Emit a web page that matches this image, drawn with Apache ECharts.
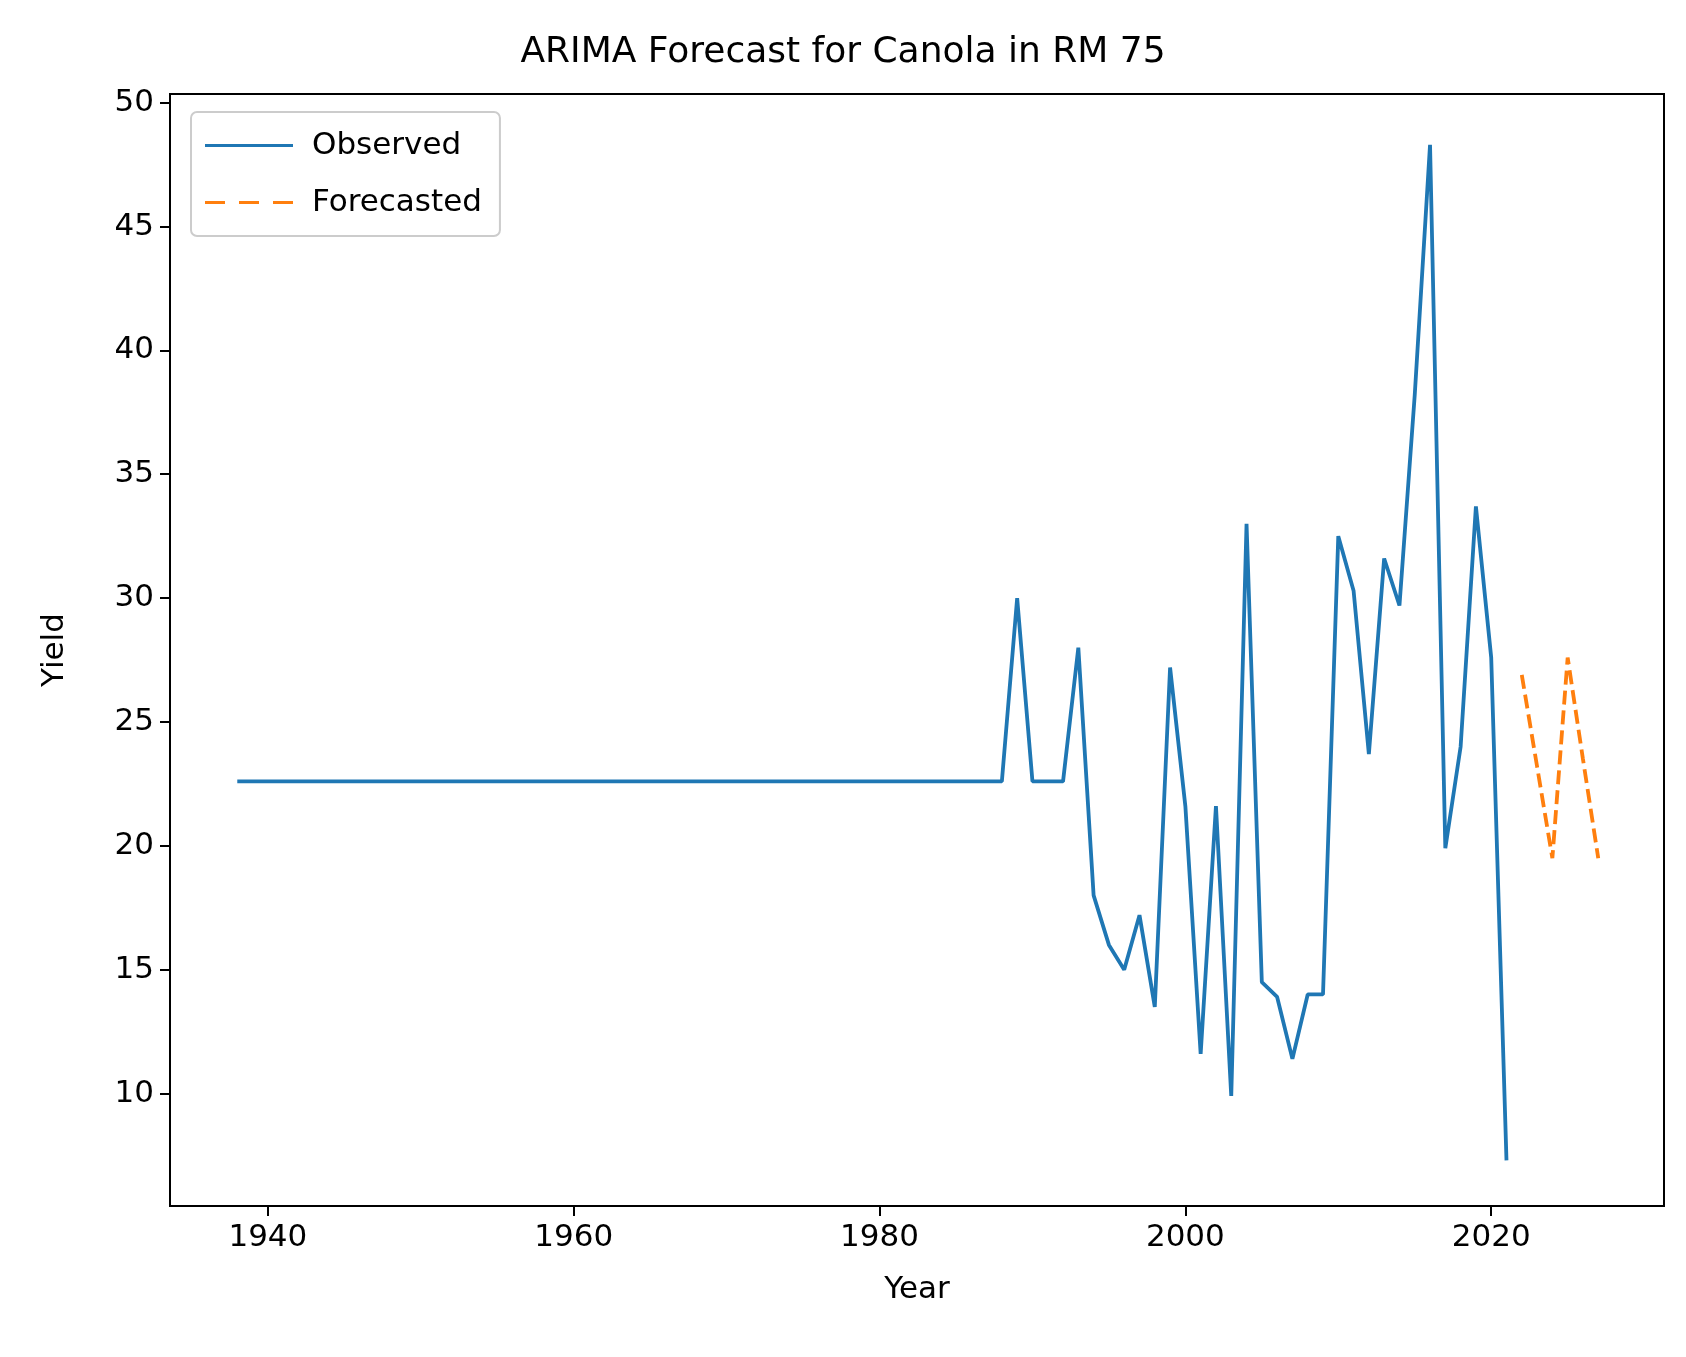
<!DOCTYPE html>
<html>
<head>
<meta charset="utf-8">
<script src="https://cdn.jsdelivr.net/npm/echarts@6/dist/echarts.min.js"></script>
<style>html,body{margin:0;background:#fff}#main{width:1686px;height:1357px}</style>
</head>
<body>
<div id="main"></div>
<script>
const obsYears = []
const obsValues = []
for (let y = 1938; y <= 1988; y++) { obsYears.push(y); obsValues.push(22.6) }
const lateYears = [1989, 1990, 1991, 1992, 1993, 1994, 1995, 1996, 1997, 1998, 1999, 2000, 2001, 2002, 2003, 2004, 2005, 2006, 2007, 2008, 2009, 2010, 2011, 2012, 2013, 2014, 2015, 2016, 2017, 2018, 2019, 2020, 2021]
const lateValues = [30, 22.6, 22.6, 22.6, 28, 18, 16, 15, 17.2, 13.5, 27.2, 21.6, 11.6, 21.6, 9.9, 33, 14.5, 13.9, 11.4, 14, 14, 32.5, 30.3, 23.7, 31.6, 29.7, 38.2, 48.3, 19.9, 24, 33.7, 27.6, 7.3]
const fcYears = [2022, 2023, 2024, 2025, 2026, 2027]
const fcValues = [26.9, 23.2, 19.5, 27.6, 23.5, 19.5]
const xTicks = [1940, 1960, 1980, 2000, 2020]
const yTicks = [10, 15, 20, 25, 30, 35, 40, 45, 50]

const observed = obsYears.concat(lateYears).map((y, i) => [y, obsValues.concat(lateValues)[i]])
const forecast = fcYears.map((y, i) => [y, fcValues[i]])
const font = 'DejaVu Sans'
const chart = echarts.init(document.getElementById('main'))
chart.setOption({
    animation: false,
    title: { text: 'ARIMA Forecast for Canola in RM 75', left: 'center', top: 30, textStyle: { fontFamily: font, fontSize: 36, fontWeight: 'normal', color: '#000' } },
    legend: {
        left: 191, top: 112, orient: 'vertical', itemWidth: 88, itemHeight: 22, itemGap: 26,
        padding: [18, 18, 18, 14], borderColor: '#ccc', borderWidth: 2, borderRadius: 6,
        textStyle: { fontFamily: font, fontSize: 31, color: '#000', padding: [0, 0, 0, 14] },
        data: [{ name: 'Observed', icon: 'path://M0,9.5H88V12.5H0Z' }, { name: 'Forecasted', icon: 'path://M0,9.5H20V12.5H0ZM34,9.5H54V12.5H34ZM68,9.5H88V12.5H68Z' }]
    },
    grid: { left: 170, right: 22, top: 94, bottom: 151 },
    xAxis: {
        type: 'value', min: 1933.6, max: 2031.3, name: 'Year', nameLocation: 'middle', nameGap: 68,
        nameTextStyle: { fontFamily: font, fontSize: 31, color: '#000' },
        axisLine: { lineStyle: { color: '#000', width: 2 } },
        axisTick: { customValues: xTicks, length: 10, lineStyle: { color: '#000', width: 2 } },
        axisLabel: { customValues: xTicks, formatter: v => String(v), fontFamily: font, fontSize: 31, color: '#000', margin: 16 },
        splitLine: { show: false }
    },
    yAxis: {
        type: 'value', min: 5.46, max: 50.35, name: 'Yield', nameLocation: 'middle', nameGap: 100,
        nameTextStyle: { fontFamily: font, fontSize: 31, color: '#000' },
        axisLine: { show: true, lineStyle: { color: '#000', width: 2 } },
        axisTick: { show: true, customValues: yTicks, length: 10, lineStyle: { color: '#000', width: 2 } },
        axisLabel: { customValues: yTicks, fontFamily: font, fontSize: 31, color: '#000', margin: 16 },
        splitLine: { show: false }
    },
    series: [
        { name: 'Observed', type: 'line', data: observed, showSymbol: false, color: '#1f77b4', lineStyle: { width: 3.8 } },
        { name: 'Forecasted', type: 'line', data: forecast, showSymbol: false, color: '#ff7f0e', lineStyle: { width: 3.8, type: [14, 6] } }
    ]
})
// top/right frame
chart.setOption({ graphic: [{ type: 'rect', shape: { x: 170, y: 94, width: 1494, height: 1112 }, style: { fill: 'none', stroke: '#000', lineWidth: 2 }, silent: true }] })
</script>
</body>
</html>
